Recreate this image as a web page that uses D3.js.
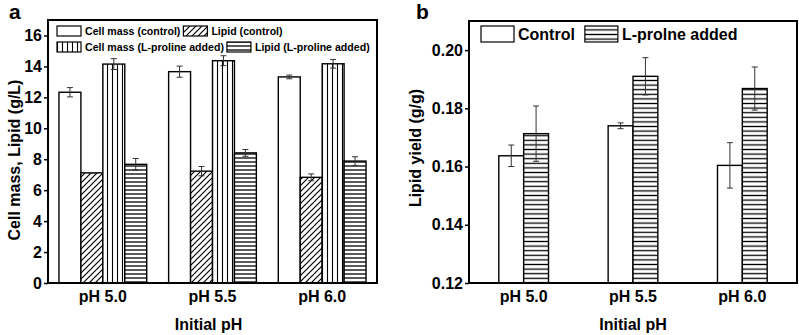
<!DOCTYPE html>
<html>
<head>
<meta charset="utf-8">
<script src="https://cdn.jsdelivr.net/npm/d3@7"></script>
<style>
  body { margin: 0; background: #fff; }
  text { font-family: "Liberation Sans", Arial, sans-serif; font-weight: bold; fill: #000; }
</style>
</head>
<body>
<div id="chart-area"></div>
<script>
// data
var groups = ["pH 5.0", "pH 5.5", "pH 6.0"];

var seriesA = ["Cell mass (control)", "Lipid (control)", "Cell mass (L-proline added)", "Lipid (L-proline added)"];
var cellControl = [12.33, 13.66, 13.32];
var cellControlErr = [0.3, 0.36, 0.12];
var lipidControl = [7.12, 7.23, 6.83];
var lipidControlErr = [0.02, 0.3, 0.22];
var cellProline = [14.15, 14.37, 14.17];
var cellProlineErr = [0.35, 0.32, 0.28];
var lipidProline = [7.67, 8.41, 7.88];
var lipidProlineErr = [0.38, 0.22, 0.28];
var ticksA = [0, 2, 4, 6, 8, 10, 12, 14, 16];

var seriesB = ["Control", "L-prolne added"];
var yieldControl = [0.1637, 0.1740, 0.1604];
var yieldControlErr = [0.0037, 0.0010, 0.0078];
var yieldProline = [0.1713, 0.1910, 0.1868];
var yieldProlineErr = [0.0095, 0.0064, 0.0074];
var ticksB = [0.12, 0.14, 0.16, 0.18, 0.20];

var width = 799, height = 335;

var svg = d3.select('#chart-area')
  .append('svg')
  .attr('width', width)
  .attr('height', height);

var defs = svg.append('defs');

function addPattern(id, w, h, draw) {
  var p = defs.append('pattern')
    .attr('id', id)
    .attr('patternUnits', 'userSpaceOnUse')
    .attr('width', w)
    .attr('height', h);
  p.append('rect').attr('width', w).attr('height', h).attr('fill', '#fff');
  draw(p);
}

addPattern('diag', 6, 6, function(p) {
  p.append('path').attr('d', 'M-1,7 L7,-1 M-4,4 L4,-4 M2,10 L10,2')
    .attr('stroke', '#000').attr('stroke-width', 1.2);
});
addPattern('vert', 5, 5, function(p) {
  p.append('line').attr('x1', 2.5).attr('x2', 2.5).attr('y1', 0).attr('y2', 5)
    .attr('stroke', '#000').attr('stroke-width', 1.1);
});
addPattern('horA', 4, 4, function(p) {
  p.append('line').attr('x1', 0).attr('x2', 4).attr('y1', 2).attr('y2', 2)
    .attr('stroke', '#000').attr('stroke-width', 1.3);
});
addPattern('horB', 4.6, 4.6, function(p) {
  p.append('line').attr('x1', 0).attr('x2', 4.6).attr('y1', 2.3).attr('y2', 2.3)
    .attr('stroke', '#000').attr('stroke-width', 1.3);
});

function drawPanel(opt) {
  var g = svg.append('g');
  var x0 = d3.scaleBand().domain(groups).range([opt.left, opt.right]);
  var x1 = d3.scaleBand().domain(opt.series.map((d, i) => i))
    .range([0, x0.bandwidth()])
    .paddingOuter(opt.outer);
  var y = d3.scaleLinear().domain(opt.domain).range([opt.bottom, opt.top]);

  var rows = [];
  opt.values.forEach((vals, si) => {
    vals.forEach((v, gi) => {
      rows.push({ g: groups[gi], s: si, v: v, e: opt.errs[si][gi] });
    });
  });

  g.selectAll('rect.bar').data(rows).enter()
    .append('rect')
    .attr('class', 'bar')
    .attr('x', d => x0(d.g) + x1(d.s))
    .attr('y', d => y(d.v))
    .attr('width', x1.bandwidth())
    .attr('height', d => opt.bottom - y(d.v))
    .attr('fill', d => opt.fills[d.s])
    .attr('stroke', '#000')
    .attr('stroke-width', 1.4);

  var eb = g.selectAll('g.err').data(rows).enter().append('g').attr('class', 'err')
    .attr('stroke', '#333').attr('stroke-width', 1);
  eb.append('line')
    .attr('x1', d => x0(d.g) + x1(d.s) + x1.bandwidth() / 2)
    .attr('x2', d => x0(d.g) + x1(d.s) + x1.bandwidth() / 2)
    .attr('y1', d => y(d.v - d.e))
    .attr('y2', d => y(d.v + d.e));
  [-1, 1].forEach(sgn => {
    eb.append('line')
      .attr('x1', d => x0(d.g) + x1(d.s) + x1.bandwidth() / 2 - 3)
      .attr('x2', d => x0(d.g) + x1(d.s) + x1.bandwidth() / 2 + 3)
      .attr('y1', d => y(d.v + sgn * d.e))
      .attr('y2', d => y(d.v + sgn * d.e));
  });

  // y axis
  var yAxis = d3.axisLeft(y).tickValues(opt.ticks).tickSize(4).tickPadding(2)
    .tickFormat(opt.fmt);
  var ya = g.append('g')
    .attr('transform', 'translate(' + opt.left + ',0)')
    .call(yAxis);
  ya.select('.domain').remove();
  ya.selectAll('line').attr('stroke', '#000').attr('stroke-width', 1.5);
  ya.selectAll('text').style('font-size', '16px').attr('fill', '#000')
    .attr('font-family', null);

  // x axis labels
  var xa = g.append('g')
    .attr('transform', 'translate(0,' + opt.bottom + ')')
    .call(d3.axisBottom(x0).tickSize(0).tickPadding(8));
  xa.select('.domain').remove();
  xa.selectAll('text').style('font-size', '16px').attr('fill', '#000')
    .attr('font-family', null);

  // frame
  g.append('rect')
    .attr('x', opt.left).attr('y', opt.top)
    .attr('width', opt.right - opt.left).attr('height', opt.bottom - opt.top)
    .attr('fill', 'none').attr('stroke', '#000').attr('stroke-width', 2);

  g.append('text')
    .attr('x', (opt.left + opt.right) / 2 + opt.xTitleShift)
    .attr('y', 330)
    .attr('text-anchor', 'middle')
    .style('font-size', '16px')
    .text('Initial pH');

  g.append('text')
    .attr('transform', 'translate(' + opt.yTitleX + ',' + opt.yTitleY + ') rotate(-90)')
    .attr('text-anchor', 'middle')
    .style('font-size', '16px')
    .text(opt.yTitle);

  g.append('text')
    .attr('x', opt.letterX).attr('y', 19)
    .style('font-size', '21px')
    .text(opt.letter);

  // legend: rows laid out left to right, each item after the previous text
  var lg = g.append('g');
  opt.legendRows.forEach((row, ri) => {
    var cx = opt.legendX;
    var ly = opt.legendY + ri * opt.rowGap;
    row.forEach((s) => {
      lg.append('rect')
        .attr('x', cx).attr('y', ly)
        .attr('width', opt.swW).attr('height', opt.swH)
        .attr('fill', opt.fills[s])
        .attr('stroke', '#000').attr('stroke-width', 1.2);
      var t = lg.append('text')
        .attr('x', cx + opt.swW + 4)
        .attr('y', ly + opt.swH / 2)
        .attr('dy', '0.36em')
        .style('font-size', opt.legendFont)
        .text(opt.series[s]);
      cx = cx + opt.swW + 4 + t.node().getComputedTextLength() + opt.itemGap;
    });
  });
}

drawPanel({
  left: 48, right: 377, top: 20, bottom: 283,
  domain: [0, 17], ticks: ticksA, fmt: d3.format('d'),
  series: seriesA,
  values: [cellControl, lipidControl, cellProline, lipidProline],
  errs: [cellControlErr, lipidControlErr, cellProlineErr, lipidProlineErr],
  fills: ['#fff', 'url(#diag)', 'url(#vert)', 'url(#horA)'],
  outer: 0.5,
  xTitleShift: -4,
  yTitle: 'Cell mass, Lipid (g/L)', yTitleX: 20, yTitleY: 160,
  letter: 'a', letterX: 9,
  swW: 24, swH: 10, legendFont: '10.6px',
  legendX: 57, legendY: 26, rowGap: 16, itemGap: 3,
  legendRows: [[0, 1], [2, 3]]
});

drawPanel({
  left: 469, right: 797, top: 21, bottom: 283,
  domain: [0.12, 0.21], ticks: ticksB, fmt: d3.format('.2f'),
  series: seriesB,
  values: [yieldControl, yieldProline],
  errs: [yieldControlErr, yieldProlineErr],
  fills: ['#fff', 'url(#horB)'],
  outer: 1.2,
  xTitleShift: 0,
  yTitle: 'Lipid yield (g/g)', yTitleX: 421, yTitleY: 148,
  letter: 'b', letterX: 416,
  swW: 33, swH: 16, legendFont: '16px',
  legendX: 481, legendY: 26, rowGap: 0, itemGap: 10,
  legendRows: [[0, 1]]
});
</script>
</body>
</html>
